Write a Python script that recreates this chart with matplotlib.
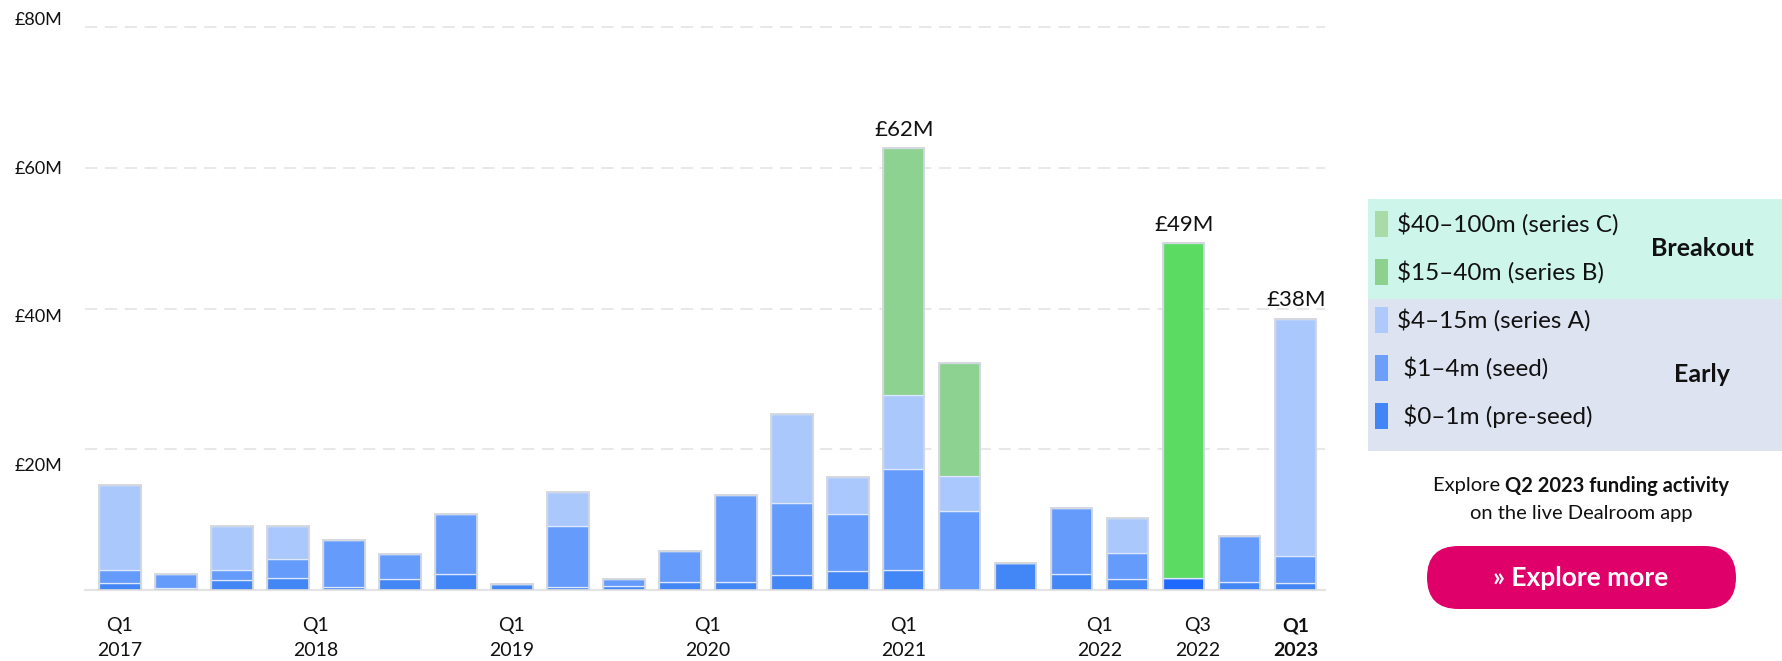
import matplotlib
matplotlib.use("Agg")
import matplotlib.pyplot as plt
from matplotlib.patches import Rectangle, FancyBboxPatch
import numpy as np

plt.rcParams['font.family'] = ['Lato', 'DejaVu Sans']

# ---------------- data ----------------
pre_seed = [1.0, 0.25, 1.37, 1.66, 0.38, 1.5, 2.27, 0.8, 0.38, 0.62, 1.09,
            1.09, 2.18, 2.75, 2.9, 0.0, 3.84, 2.23, 1.56, 1.66, 1.18, 0.95]
seed = [1.9, 2.0, 1.47, 2.8, 6.8, 3.65, 8.6, 0.0, 8.67, 0.94, 4.46,
        12.4, 10.2, 8.1, 14.26, 11.18, 0.0, 9.5, 3.7, 0.0, 6.5, 3.93]
series_a = [12.1, 0.0, 6.3, 4.7, 0.0, 0.0, 0.0, 0.0, 4.88, 0.0, 0.0,
            0.0, 12.7, 5.2, 10.56, 5.1, 0.0, 0.0, 5.0, 0.0, 0.0, 33.7]
series_b = [0.0] * 14 + [35.1, 16.0, 0.0, 0.0, 0.0, 47.7, 0.0, 0.0]

labelled_bars = [14, 19, 21]
highlight_bar = 19

tick_quarters = [0, 4, 8, 12, 16, 20, 22, 24]
tick_q = ["Q1", "Q1", "Q1", "Q1", "Q1", "Q1", "Q3", "Q1"]
tick_year = ["2017", "2018", "2019", "2020", "2021", "2022", "2022", "2023"]
n_quarters = 25

y_ticks = [20, 40, 60, 80]

legend_labels = [r"\$40–100m (series C)", r"\$15–40m (series B)",
                 r"\$4–15m (series A)", r" \$1–4m (seed)", r" \$0–1m (pre-seed)"]
legend_colors = ["#a8dba8", "#8dd18f", "#aec9fb", "#6b9ffa", "#4285f4"]

# ---------------- style ----------------
C_PRE, C_SEED, C_A, C_B = "#4386f5", "#659cfb", "#abc8fc", "#8dd290"
C_PRE_HI, C_B_HI = "#2069fd", "#5cdb63"
TXT = "#111111"

W, H = 1783, 661
fig = plt.figure(figsize=(W / 100, H / 100), dpi=100)
fig.patch.set_facecolor("white")

ax = fig.add_axes([85 / W, 71 / H, 1240 / W, 590 / H])
n = len(pre_seed)
x = np.arange(n)
ax.set_xlim(-0.625, n - 1 + 0.52)
ax.set_ylim(0, 83.9)
for s in ax.spines.values():
    s.set_visible(False)
ax.set_xticks([])
ax.set_yticks([])

for v in y_ticks:
    ax.axhline(v, color="#e2e2e2", lw=1.1, dashes=(8, 5), zorder=0)
ax.axhline(0, color="#e4e4e4", lw=1.6, zorder=0, clip_on=False)

pre = np.array(pre_seed)
sd = np.array(seed)
sa = np.array(series_a)
sb = np.array(series_b)
total = pre + sd + sa + sb

bw = 0.735
pre_cols = [C_PRE_HI if i == highlight_bar else C_PRE for i in range(n)]
b_cols = [C_B_HI if i == highlight_bar else C_B for i in range(n)]
sep = "#dde8fd"
ax.bar(x, pre, bw, color=pre_cols, edgecolor=sep, lw=0.9, zorder=2)
ax.bar(x, sd, bw, bottom=pre, color=C_SEED, edgecolor=sep, lw=0.9, zorder=2)
ax.bar(x, sa, bw, bottom=pre + sd, color=C_A, edgecolor=sep, lw=0.9, zorder=2)
ax.bar(x, sb, bw, bottom=pre + sd + sa, color=b_cols, edgecolor=sep, lw=0.9, zorder=2)
ax.bar(x, total, bw, fill=False, edgecolor="#d3d6dc", lw=1.3, zorder=3)

for i in labelled_bars:
    ax.annotate(f"£{int(total[i])}M", (x[i], total[i]), xytext=(0, 6),
                textcoords="offset points", ha="center", va="bottom",
                fontsize=16, color=TXT)

# x tick labels on a time scale
xt = ax.get_xaxis_transform()
for k, (q, ql, yl) in enumerate(zip(tick_quarters, tick_q, tick_year)):
    pos = q * (n - 1) / (n_quarters - 1)
    fw = "bold" if k == len(tick_quarters) - 1 else "normal"
    ax.text(pos, (590 - 626) / 590, ql, transform=xt, ha="center", va="center",
            fontsize=14, color=TXT, fontweight=fw)
    ax.text(pos, (590 - 650) / 590, yl, transform=xt, ha="center", va="center",
            fontsize=14, color=TXT, fontweight=fw)

# y labels
ax_lab = fig.add_axes([0, 46 / H, 85 / W, 595 / H])
ax_lab.set_ylim(0, 80)
ax_lab.set_xlim(0, 85)
ax_lab.axis("off")
for v in y_ticks:
    ax_lab.text(14.5, v, f"£{v}M", ha="left", va="center", fontsize=13,
                color=TXT)

# ---------------- side panel (pixel coords) ----------------
ov = fig.add_axes([0, 0, 1, 1])
ov.set_xlim(0, W)
ov.set_ylim(H, 0)
ov.axis("off")
ov.patch.set_alpha(0)

ov.add_patch(Rectangle((1368, 199), 415, 100, color="#cdf5ea", lw=0))
ov.add_patch(Rectangle((1368, 299), 415, 152, color="#dde3f0", lw=0))
ys = [224, 272, 320, 368, 416]
for yy, lab, col in zip(ys, legend_labels, legend_colors):
    ov.add_patch(Rectangle((1375, yy - 13), 13, 26, color=col, lw=0))
    ov.text(1397, yy, lab, ha="left", va="center", fontsize=17.5, color=TXT)
ov.text(1702, 249, "Breakout", ha="center", va="center", fontsize=18,
        fontweight="bold", color=TXT)
ov.text(1702, 375, "Early", ha="center", va="center", fontsize=18,
        fontweight="bold", color=TXT)

fig.canvas.draw()
r = fig.canvas.get_renderer()
ta = ov.text(0, 486, "Explore ", ha="left", va="center", fontsize=14.5, color=TXT)
tb = ov.text(0, 486, "Q2 2023 funding activity", ha="left", va="center",
             fontsize=14.5, fontweight="bold", color=TXT)
wa = ta.get_window_extent(r).width
wb = tb.get_window_extent(r).width
x0 = 1581 - (wa + wb) / 2
ta.set_x(x0)
tb.set_x(x0 + wa)
ov.text(1581, 513, "on the live Dealroom app", ha="center", va="center",
        fontsize=14.5, color=TXT)

ov.add_patch(FancyBboxPatch((1427, 546), 309, 63,
                            boxstyle="round,pad=0,rounding_size=31.5",
                            fc="#e0006a", ec="none"))
ov.text(1581, 578, "» Explore more", ha="center", va="center", fontsize=19,
        fontweight="bold", color="white")

fig.savefig("out.png", dpi=100, facecolor="white")
